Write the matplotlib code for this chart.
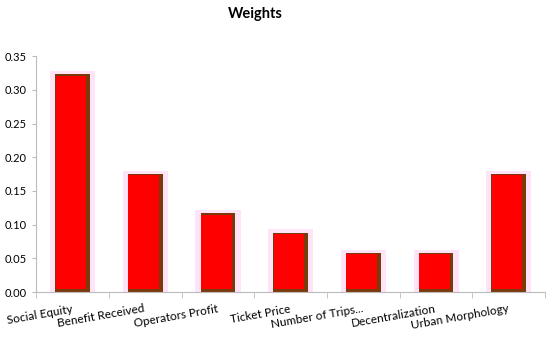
import numpy as np
import matplotlib
matplotlib.use("Agg")
import matplotlib.pyplot as plt
from matplotlib.transforms import ScaledTranslation

categories = ["Social Equity", "Benefit Received", "Operators Profit", "Ticket Price",
              "Number of Trips...", "Decentralization", "Urban Morphology"]
weights = [0.323, 0.175, 0.117, 0.088, 0.058, 0.058, 0.175]
y_ticks = [0.00, 0.05, 0.10, 0.15, 0.20, 0.25, 0.30, 0.35]

plt.rcParams['font.family'] = ['Lato', 'DejaVu Sans']

fig = plt.figure(figsize=(5.5, 3.4), dpi=100)
ax = fig.add_axes([0.066, 0.141, 0.925, 0.694])

x = np.arange(len(categories))
w = 0.48
h = np.array(weights)

# pink glow behind each bar
ax.bar(x, h + 0.005, width=w + 0.14, color="#ffe3f7", zorder=1)
# brown frame (thicker on right/bottom)
ax.bar(x, h, width=w, color="#7a3a0c", zorder=2)
# red fill
ax.bar(x - 0.022, h - 0.0065, bottom=0.0045, width=w - 0.06, color="#ff0000", zorder=3)

ax.set_xlim(-0.5, len(categories) - 0.5)
ax.set_ylim(0, 0.35)
ax.set_yticks(y_ticks)
ax.set_yticklabels([f"{v:.2f}" for v in y_ticks], fontsize=8)

ax.set_xticks(x)
ax.set_xticklabels(categories, fontsize=8.5, rotation=10, ha="right",
                   rotation_mode="anchor")
ax.set_xticks(np.arange(-0.5, len(categories)), minor=True)
ax.tick_params(axis="x", which="major", length=0, pad=8)
ax.tick_params(axis="x", which="minor", length=4, color="#bbbbbb", direction="out")
ax.tick_params(axis="y", length=3, color="#bbbbbb", pad=4)

offset = ScaledTranslation(-1 / 72, 0, fig.dpi_scale_trans)
for lbl in ax.get_xticklabels():
    lbl.set_transform(lbl.get_transform() + offset)

for s in ["top", "right"]:
    ax.spines[s].set_visible(False)
ax.spines["left"].set_color("#bbbbbb")
ax.spines["bottom"].set_color("#bbbbbb")

fig.suptitle("Weights", fontsize=10.5, fontweight="bold", x=0.465, y=0.98)

fig.savefig("out.png", dpi=100)
